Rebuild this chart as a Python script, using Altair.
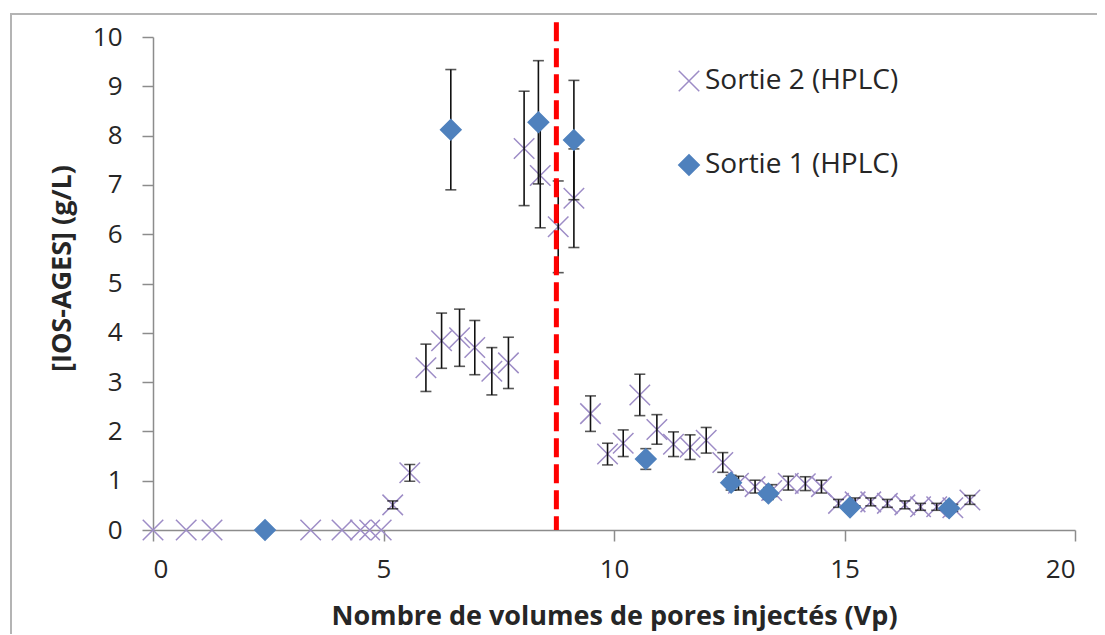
import altair as alt
import pandas as pd

# ---- data ----
s2_x = [0, 0.72, 1.28, 3.42, 4.10, 4.50, 4.70, 4.95, 5.20, 5.57, 5.92, 6.26, 6.65, 6.98,
        7.35, 7.71, 8.05, 8.40, 8.79, 9.13, 9.49, 9.86, 10.20, 10.56, 10.93, 11.29,
        11.65, 12.00, 12.36, 12.70, 13.06, 13.42, 13.78, 14.15, 14.50, 14.87, 15.23,
        15.57, 15.93, 16.31, 16.65, 17.00, 17.35, 17.72]
s2_y = [0, 0, 0, 0, 0, 0, 0, 0, 0.51, 1.16, 3.29, 3.84, 3.90, 3.70,
        3.22, 3.39, 7.74, 7.19, 6.15, 6.73, 2.36, 1.54, 1.76, 2.74, 2.04, 1.74,
        1.68, 1.82, 1.37, 0.95, 0.88, 0.80, 0.95, 0.94, 0.88, 0.54, 0.57,
        0.57, 0.54, 0.51, 0.47, 0.47, 0.45, 0.61]
s2_err = [0, 0, 0, 0, 0, 0, 0, 0, 0.08, 0.17, 0.48, 0.56, 0.58, 0.55,
          0.48, 0.52, 1.16, 1.06, 0.93, 1.00, 0.36, 0.22, 0.27, 0.42, 0.30, 0.25,
          0.25, 0.26, 0.20, 0.14, 0.13, 0.12, 0.14, 0.14, 0.13, 0.08, 0.08,
          0.08, 0.08, 0.08, 0.07, 0.07, 0.07, 0.09]

s1_x = [2.43, 6.46, 8.36, 9.13, 10.69, 12.54, 13.35, 15.12, 17.27]
s1_y = [0, 8.12, 8.27, 7.91, 1.44, 0.96, 0.74, 0.46, 0.44]
s1_err = [0, 1.22, 1.25, 1.21, 0.21, 0.15, 0.12, 0.07, 0.07]

series_names = ["Sortie 2 (HPLC)", "Sortie 1 (HPLC)"]
series_colors = ["#9d8cc6", "#4f81bd"]
x_cut = [8.75]
x_ticks = [0, 5, 10, 15, 20]
y_ticks = list(range(0, 11))

# ---- tables ----
d2 = pd.DataFrame({"x": s2_x, "y": s2_y, "err": s2_err, "serie": series_names[0]})
d1 = pd.DataFrame({"x": s1_x, "y": s1_y, "err": s1_err, "serie": series_names[1]})
for d in (d1, d2):
    d["lo"] = d["y"] - d["err"]
    d["hi"] = d["y"] + d["err"]
e2 = d2[d2["err"] > 0]
e1 = d1[d1["err"] > 0]

FONT = "Open Sans"
GRAY = "#8c8c8c"
TXT = "#262626"

xs = alt.Scale(domain=[0, 20], nice=False, zero=False)
ys = alt.Scale(domain=[0, 10], nice=False)

x_axis = alt.Axis(values=x_ticks, grid=False, tickSize=11, tickColor=GRAY, tickWidth=1.5,
                  domainColor=GRAY, domainWidth=1.5, labelFont=FONT, labelFontSize=26,
                  labelColor=TXT, labelPadding=15,
                  title="Nombre de volumes de pores injectés (Vp)", titleFont=FONT,
                  titleFontSize=27, titleFontWeight="bold", titleColor=TXT,
                  titleY=86, titleBaseline="middle")
y_axis = alt.Axis(values=y_ticks, grid=False, tickSize=11, tickColor=GRAY, tickWidth=1.5,
                  domainColor=GRAY, domainWidth=1.5, labelFont=FONT, labelFontSize=26,
                  labelColor=TXT, labelPadding=20,
                  title="[IOS-AGES] (g/L)", titleFont=FONT, titleFontSize=27,
                  titleFontWeight="bold", titleColor=TXT, titleX=-91, titleY=231,
                  titleAngle=270, titleAlign="center", titleBaseline="middle")

X_PATH = "M-1,-1L1,1M1,-1L-1,1"

frame = alt.Chart(pd.DataFrame({"k": [0]})).mark_rect(
    fill=None, stroke="#b4b4b4", strokeWidth=2
).encode(x=alt.value(-142), x2=alt.value(1000), y=alt.value(-23), y2=alt.value(700))


def bars(df):
    rule = alt.Chart(df).mark_rule(color="#111111", strokeWidth=1.6).encode(
        x=alt.X("x:Q", scale=xs), y=alt.Y("lo:Q", scale=ys), y2="hi:Q")
    cap_lo = alt.Chart(df).mark_tick(color="#111111", thickness=1.6, size=11,
                                      orient="horizontal").encode(
        x=alt.X("x:Q", scale=xs), y=alt.Y("lo:Q", scale=ys))
    cap_hi = alt.Chart(df).mark_tick(color="#111111", thickness=1.6, size=11,
                                      orient="horizontal").encode(
        x=alt.X("x:Q", scale=xs), y=alt.Y("hi:Q", scale=ys))
    return rule + cap_lo + cap_hi


col_scale = alt.Scale(domain=series_names, range=series_colors)
shape_scale = alt.Scale(domain=series_names, range=[X_PATH, "diamond"])
fill_scale = alt.Scale(domain=series_names, range=["transparent", series_colors[1]])

legend = alt.Legend(title=None, orient="none", legendX=522, legendY=30,
                    labelFont=FONT, labelFontSize=28, labelColor=TXT, labelLimit=0,
                    symbolSize=420, symbolStrokeWidth=1.5, rowPadding=56,
                    labelOffset=2, padding=0)


def points(df, legend_on):
    lg = legend if legend_on else None
    return alt.Chart(df).mark_point(size=420, strokeWidth=1.5, opacity=1).encode(
        x=alt.X("x:Q", scale=xs, axis=x_axis),
        y=alt.Y("y:Q", scale=ys, axis=y_axis),
        shape=alt.Shape("serie:N", scale=shape_scale, legend=lg),
        stroke=alt.Stroke("serie:N", scale=col_scale, legend=lg),
        fill=alt.Fill("serie:N", scale=fill_scale, legend=lg),
    )


p2 = points(d2, True)
p1 = points(d1, False)

cut = alt.Chart(pd.DataFrame({"x": x_cut, "top": [10.3], "bot": [0]})).mark_rule(
    color="#ff0000", strokeWidth=5, strokeDash=[19, 7]
).encode(x=alt.X("x:Q", scale=xs), y=alt.Y("top:Q", scale=ys), y2="bot:Q")

chart = alt.layer(frame, p2, bars(e2), bars(e1), p1, cut).resolve_scale(
    shape="shared", stroke="shared", fill="shared"
).properties(
    width=922, height=493,
    padding={"left": 145, "top": 29, "right": 22, "bottom": 104},
    autosize=alt.AutoSizeParams(type="none"),
    background="white",
).configure_view(stroke=None)

chart.save("out.html", embed_options={"renderer": "svg", "actions": False})
